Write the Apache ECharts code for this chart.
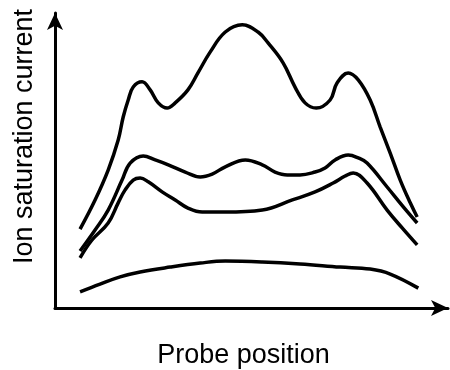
<!DOCTYPE html>
<html>
<head>
<meta charset="utf-8">
<script src="https://cdn.jsdelivr.net/npm/echarts@6/dist/echarts.min.js"></script>
<style>
  html, body { margin: 0; padding: 0; background: #fff; }
  #chart { width: 450px; height: 370px; }
</style>
</head>
<body>
<div id="chart"></div>
<script>
// probe position and ion saturation current (arbitrary units)
var topX = [6.5, 10.4, 13.8, 16.4, 17.7, 19.0, 20.3, 22.6, 24.7, 26.8, 29.1, 31.2, 34.5, 37.1, 40.3, 44.2, 48.6, 52.7, 55.3, 59.2, 62.3, 64.9, 67.8, 71.4, 73.2, 76.1, 78.7, 81.8, 84.4, 87.0, 89.6, 92.2, 94.0];
var topY = [27.4, 37.5, 47.9, 58.3, 66.3, 72.2, 76.7, 78.5, 75.7, 71.2, 69.4, 71.2, 75.7, 81.6, 88.9, 95.8, 98.3, 95.8, 92.0, 85.1, 76.7, 71.2, 69.4, 72.2, 78.1, 81.6, 79.2, 72.2, 62.8, 53.8, 44.4, 36.5, 31.6];

var midX = [6.5, 10.4, 13.8, 17.4, 19.5, 22.9, 26.0, 29.4, 33.8, 37.7, 40.8, 44.2, 49.4, 53.8, 57.1, 60.3, 63.6, 67.5, 70.1, 72.7, 76.1, 78.7, 81.0, 86.2, 90.4, 94.0];
var midY = [19.8, 27.1, 34.0, 44.4, 50.3, 52.8, 51.4, 49.7, 47.2, 45.5, 46.5, 49.0, 51.4, 49.7, 47.2, 46.2, 46.2, 47.2, 48.6, 51.4, 53.1, 52.1, 50.3, 42.0, 35.1, 29.5];

var lowX = [6.5, 9.6, 13.8, 16.4, 18.2, 20.3, 22.1, 24.2, 27.8, 31.2, 34.5, 38.2, 44.2, 53.8, 61.6, 67.5, 72.2, 75.3, 77.4, 81.0, 86.2, 90.1, 94.0];
var lowY = [17.4, 23.6, 29.5, 36.5, 41.0, 44.4, 45.1, 43.8, 40.3, 37.5, 34.7, 33.3, 33.3, 34.0, 37.5, 40.3, 43.4, 45.8, 46.9, 43.4, 34.0, 27.8, 21.9];

var baseX = [6.5, 11.7, 16.9, 22.1, 29.9, 37.7, 44.2, 53.8, 63.6, 74.0, 81.8, 87.0, 94.3];
var baseY = [5.6, 8.3, 10.8, 12.5, 14.2, 15.6, 16.3, 16.0, 15.3, 14.2, 13.5, 11.8, 6.9];

function pairs(xs, ys) {
    var out = [];
    for (var i = 0; i < xs.length; i++) out.push([xs[i], ys[i]]);
    return out;
}

function curve(xs, ys) {
    return {
        type: 'line',
        data: pairs(xs, ys),
        smooth: 0.4,
        showSymbol: false,
        lineStyle: { color: '#000', width: 3.5 },
        animation: false
    };
}

var chart = echarts.init(document.getElementById('chart'));
var option = {
    backgroundColor: '#fff',
    grid: { left: 55, right: 2, top: 13, bottom: 62, outerBoundsMode: 'none', containLabel: false },
    xAxis: {
        type: 'value',
        min: 0, max: 102,
        name: 'Probe position',
        nameLocation: 'middle',
        nameGap: 34,
        nameTextStyle: { color: '#000', fontSize: 27, fontFamily: 'Liberation Sans', padding: [0, 16, 0, 0] },
        axisLine: { show: true, symbol: ['none', 'arrow'], symbolSize: [12, 17], lineStyle: { color: '#000', width: 3 } },
        axisTick: { show: false },
        axisLabel: { show: false },
        splitLine: { show: false }
    },
    yAxis: {
        type: 'value',
        min: 0, max: 102.4,
        name: 'Ion saturation current',
        nameLocation: 'middle',
        nameGap: 17,
        nameTextStyle: { color: '#000', fontSize: 27, fontFamily: 'Liberation Sans', padding: [0, 0, 0, 48] },
        axisLine: { show: true, symbol: ['none', 'arrow'], symbolSize: [12, 17], lineStyle: { color: '#000', width: 3 } },
        axisTick: { show: false },
        axisLabel: { show: false },
        splitLine: { show: false }
    },
    series: [
        curve(topX, topY),
        curve(midX, midY),
        curve(lowX, lowY),
        curve(baseX, baseY)
    ]
};
chart.setOption(option);
</script>
</body>
</html>
